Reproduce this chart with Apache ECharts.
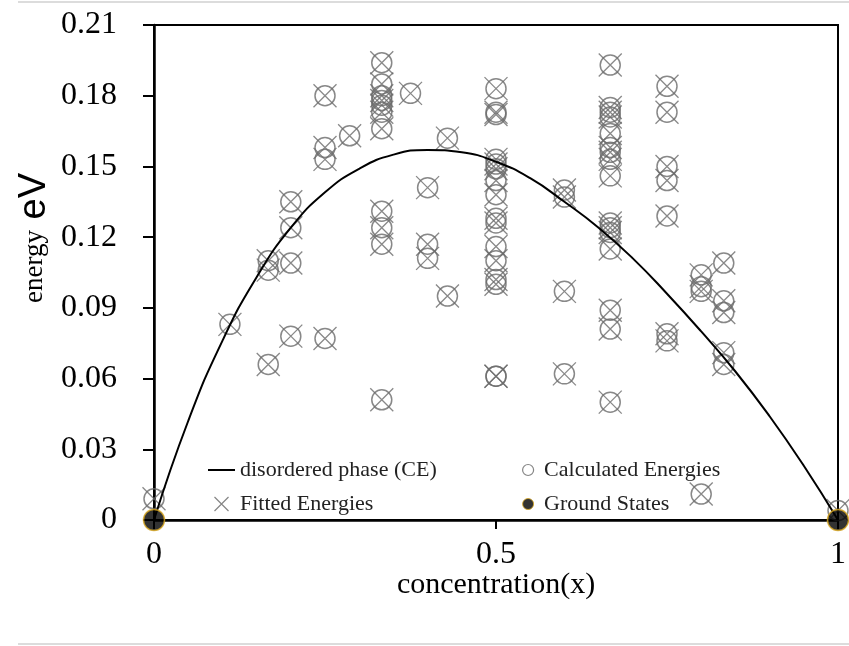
<!DOCTYPE html>
<html><head><meta charset="utf-8">
<script src="https://cdn.jsdelivr.net/npm/echarts@6/dist/echarts.min.js"></script>
<style>html,body{margin:0;padding:0;background:#fff}#chart{width:849px;height:646px}</style>
</head><body><div id="chart"></div>
<script>
// Calculated / fitted structure energies (they coincide in the figure)
const concentration = [
  0,
  0.111,
  0.167, 0.167, 0.167,
  0.2, 0.2, 0.2, 0.2,
  0.25, 0.25, 0.25, 0.25,
  0.286,
  0.333, 0.333, 0.333, 0.333, 0.333, 0.333, 0.333, 0.333, 0.333, 0.333, 0.333,
  0.375,
  0.4, 0.4, 0.4,
  0.429, 0.429,
  0.5, 0.5, 0.5, 0.5, 0.5, 0.5, 0.5, 0.5, 0.5, 0.5, 0.5, 0.5, 0.5, 0.5, 0.5, 0.5,
  0.6, 0.6, 0.6, 0.6,
  0.667, 0.667, 0.667, 0.667, 0.667, 0.667, 0.667, 0.667, 0.667, 0.667, 0.667, 0.667, 0.667, 0.667, 0.667, 0.667,
  0.75, 0.75, 0.75, 0.75, 0.75, 0.75, 0.75,
  0.8, 0.8, 0.8, 0.8,
  0.833, 0.833, 0.833, 0.833, 0.833,
  1
];
const calculatedEnergy = [
  0.009,
  0.083,
  0.110, 0.106, 0.066,
  0.135, 0.124, 0.109, 0.078,
  0.180, 0.158, 0.153, 0.077,
  0.163,
  0.194, 0.185, 0.180, 0.178, 0.176, 0.173, 0.166, 0.131, 0.124, 0.117, 0.051,
  0.181,
  0.141, 0.117, 0.111,
  0.162, 0.095,
  0.183, 0.173, 0.172, 0.153, 0.151, 0.149, 0.144, 0.138, 0.128, 0.126, 0.116, 0.110, 0.102, 0.100, 0.061, 0.061,
  0.140, 0.137, 0.097, 0.062,
  0.193, 0.175, 0.173, 0.171, 0.164, 0.158, 0.156, 0.153, 0.146, 0.126, 0.124, 0.122, 0.115, 0.089, 0.081, 0.050,
  0.184, 0.173, 0.150, 0.144, 0.129, 0.079, 0.076,
  0.104, 0.099, 0.097, 0.011,
  0.109, 0.093, 0.088, 0.071, 0.066,
  0.004
];
const fittedEnergy = calculatedEnergy;

// Disordered phase (CE) curve
const ceX = [0, 0.05, 0.1, 0.15, 0.2, 0.25, 0.3, 0.35, 0.4, 0.45, 0.5, 0.55, 0.6, 0.65, 0.7, 0.75, 0.8, 0.85, 0.9, 0.95, 1];
const ceEnergy = [0, 0.042, 0.076, 0.103, 0.124, 0.139, 0.149, 0.155, 0.157, 0.156, 0.152, 0.145, 0.135, 0.124, 0.111, 0.096, 0.080, 0.063, 0.044, 0.023, 0];

// Ground states
const groundX = [0, 1];
const groundEnergy = [0, 0];

const yTickLabels = ['0', '0.03', '0.06', '0.09', '0.12', '0.15', '0.18', '0.21'];
const xTickLabels = ['0', '0.5', '1'];

const SERIF = 'Liberation Serif';
const pts = (xs, ys) => xs.map((x, i) => [x, ys[i]]);
const crossPath = 'path://M0,0L10,10M10,0L0,10';

const chart = echarts.init(document.getElementById('chart'), null, {renderer: 'canvas'});
chart.setOption({
  animation: false,
  backgroundColor: '#fff',
  grid: {left: 154, right: 8, top: 25, bottom: 126, show: true, borderColor: '#000', borderWidth: 2, backgroundColor: 'transparent'},
  xAxis: {
    type: 'value', min: 0, max: 1, interval: 0.5,
    axisLine: {show: true, lineStyle: {color: '#000', width: 2.5}},
    axisTick: {show: true, length: 9, lineStyle: {color: '#000', width: 2}},
    splitLine: {show: false},
    axisLabel: {fontFamily: SERIF, fontSize: 32, color: '#000', margin: 19,
      formatter: v => xTickLabels[Math.round(v / 0.5)]},
    name: 'concentration(x)', nameLocation: 'middle', nameGap: 50, nameMoveOverlap: false,
    nameTextStyle: {fontFamily: SERIF, fontSize: 30, color: '#000'}
  },
  yAxis: {
    type: 'value', min: 0, max: 0.21, interval: 0.03,
    axisLine: {show: true, lineStyle: {color: '#000', width: 2.5}},
    axisTick: {show: true, length: 11, lineStyle: {color: '#000', width: 2}},
    splitLine: {show: false},
    axisLabel: {fontFamily: SERIF, fontSize: 32, color: '#000', margin: 37,
      formatter: v => yTickLabels[Math.round(v / 0.03)]}
  },
  legend: [
    {
      orient: 'vertical', left: 203, top: 454, itemWidth: 27, itemHeight: 14, itemGap: 12,
      selectedMode: false,
      textStyle: {fontFamily: SERIF, fontSize: 22, color: '#222'},
      data: [
        {name: 'disordered phase (CE)', icon: 'path://M0,0L27,0L27,2L0,2Z', itemStyle: {color: '#000'}},
        {name: 'Fitted Energies', icon: crossPath, itemStyle: {color: 'none', borderColor: '#666', borderWidth: 1.2}}
      ]
    },
    {
      orient: 'vertical', left: 517, top: 454, itemWidth: 12, itemHeight: 11, itemGap: 12,
      selectedMode: false,
      textStyle: {fontFamily: SERIF, fontSize: 22, color: '#222', padding: [0, 0, 0, 5]},
      data: [
        {name: 'Calculated Energies', icon: 'circle', itemStyle: {color: '#fff', borderColor: '#666', borderWidth: 1.2}},
        {name: 'Ground States', icon: 'circle', itemStyle: {color: '#000', borderColor: '#d4a21a', borderWidth: 1}}
      ]
    }
  ],
  series: [
    {
      name: 'Calculated Energies', type: 'scatter', z: 2,
      data: pts(concentration, calculatedEnergy),
      symbol: 'circle', symbolSize: 20,
      itemStyle: {color: 'rgba(255,255,255,0)', borderColor: '#6a6a6a', borderWidth: 1.5}
    },
    {
      name: 'Fitted Energies', type: 'scatter', z: 3,
      data: pts(concentration, fittedEnergy),
      symbol: crossPath, symbolSize: 23,
      itemStyle: {color: 'none', borderColor: '#6a6a6a', borderWidth: 1.3}
    },
    {
      name: 'disordered phase (CE)', type: 'line', z: 4,
      data: pts(ceX, ceEnergy), smooth: true, showSymbol: false,
      lineStyle: {color: '#000', width: 2}
    },
    {
      name: 'Ground States', type: 'scatter', z: 5,
      data: pts(groundX, groundEnergy),
      symbol: 'circle', symbolSize: 21,
      itemStyle: {color: '#000', borderColor: '#d4a21a', borderWidth: 1.5}
    }
  ],
  graphic: [
    {type: 'line', shape: {x1: 18, y1: 2, x2: 849, y2: 2}, style: {stroke: '#dcdcdc', lineWidth: 2}},
    {type: 'line', shape: {x1: 18, y1: 644, x2: 849, y2: 644}, style: {stroke: '#dcdcdc', lineWidth: 2}},
    {
      type: 'text', x: 54, y: 238, rotation: Math.PI / 2,
      style: {
        text: '{a|energy}{b| eV}',
        align: 'center', verticalAlign: 'bottom',
        rich: {
          a: {fontFamily: SERIF, fontSize: 27, fill: '#000'},
          b: {fontFamily: 'Liberation Sans', fontSize: 38, fill: '#000'}
        }
      }
    }
  ]
});
</script>
</body></html>
